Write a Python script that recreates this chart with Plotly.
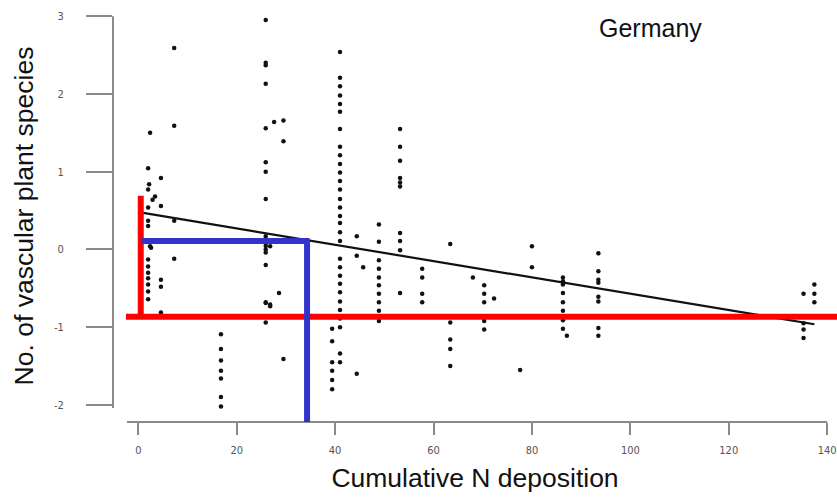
import plotly.graph_objects as go
import numpy as np

# Cumulative N deposition (x) and residual number of vascular plant species (y)
deposition = (
    [2.4, 2.0, 4.6, 2.2, 2.0, 3.4, 2.9, 4.6, 2.0, 2.0, 2.0, 2.4, 2.6,
     2.0, 2.0, 2.0, 2.0, 2.0, 2.0, 2.0, 4.6, 4.6, 4.6]
    + [7.3, 7.3, 7.3, 7.3]
    + [16.8] * 7
    + [25.9] * 17
    + [27.6, 26.8, 26.8, 26.8]
    + [29.5, 29.5, 29.5, 28.6]
    + [39.4] * 6
    + [41.0] * 30
    + [44.4, 44.4, 44.4, 45.7]
    + [48.9] * 10
    + [53.2] * 10
    + [57.7] * 4
    + [63.4] * 5
    + [68.0]
    + [70.3] * 5
    + [72.3, 77.6, 80.0, 80.0]
    + [86.3] * 8 + [87.1]
    + [93.5] * 8
    + [135.2] * 4
    + [137.4] * 3
)

species = (
    [1.50, 1.045, 0.92, 0.84, 0.77, 0.68, 0.64, 0.56, 0.54, 0.37, 0.30, 0.04, 0.02,
     -0.13, -0.22, -0.30, -0.37, -0.45, -0.54, -0.64, -0.39, -0.48, -0.81]
    + [2.59, 1.59, 0.37, -0.12]
    + [-1.09, -1.28, -1.43, -1.56, -1.66, -1.90, -2.02]
    + [2.95, 2.40, 2.37, 2.13, 1.56, 1.12, 1.00, 0.65, 0.17, 0.08, 0.045, 0.0,
       -0.04, -0.20, -0.68, -0.69, -0.94]
    + [1.64, 0.04, -0.71, -0.73]
    + [1.66, 1.39, -1.41, -0.56]
    + [-1.02, -1.18, -1.45, -1.56, -1.68, -1.80]
    + [2.54, 2.21, 2.10, 1.98, 1.87, 1.77, 1.55, 1.32, 1.21, 1.10, 0.99, 0.88,
       0.77, 0.65, 0.54, 0.43, 0.34, 0.22, 0.11, -0.12, -0.23, -0.34, -0.44,
       -0.55, -0.67, -0.78, -0.89, -1.00, -1.34, -1.45]
    + [0.17, -0.08, -1.60, -0.23]
    + [0.32, 0.10, -0.14, -0.25, -0.36, -0.46, -0.57, -0.68, -0.79, -0.92]
    + [1.55, 1.32, 1.14, 0.92, 0.86, 0.81, 0.21, 0.11, -0.01, -0.56]
    + [-0.25, -0.36, -0.57, -0.68]
    + [0.07, -0.94, -1.16, -1.28, -1.50]
    + [-0.36]
    + [-0.46, -0.57, -0.68, -0.92, -1.03]
    + [-0.63, -1.55, 0.04, -0.23]
    + [-0.36, -0.41, -0.45, -0.56, -0.68, -0.79, -0.91, -1.02, -1.11]
    + [-0.05, -0.28, -0.39, -0.43, -0.61, -0.67, -1.01, -1.11]
    + [-0.57, -0.95, -1.03, -1.14]
    + [-0.45, -0.57, -0.68]
)

# Fitted linear trend
fit_intercept = 0.48
fit_slope = -0.0105
fit_x_range = [1.0, 137.4]

# Reference guides
red_x, red_top, red_level = 0.5, 0.69, -0.865
blue_x, blue_level = 34.3, 0.11

x_ticks = [0, 20, 40, 60, 80, 100, 120, 140]
y_ticks = [-2, -1, 0, 1, 2, 3]

x_range = [-5.14, 142.0]
y_range = [-2.22, 3.08]

fit_x = np.array(fit_x_range)
fit_y = fit_intercept + fit_slope * fit_x

fig = go.Figure()
fig.add_trace(go.Scatter(
    x=deposition, y=species, mode="markers",
    marker=dict(size=4.5, color="#111111"),
    showlegend=False, hoverinfo="skip",
))
fig.add_trace(go.Scatter(
    x=fit_x, y=fit_y, mode="lines",
    line=dict(color="#111111", width=2.2),
    showlegend=False, hoverinfo="skip",
))

axis_grey = "#8a8a8a"
shapes = [
    # axis lines
    dict(type="line", xref="paper", yref="y", x0=0, x1=0, y0=y_ticks[0] - 0.04, y1=y_ticks[-1],
         line=dict(color=axis_grey, width=2)),
    dict(type="line", xref="x", yref="paper", x0=-2.3, x1=x_ticks[-1], y0=0, y1=0,
         line=dict(color=axis_grey, width=2)),
    # red guides
    dict(type="line", xref="x", yref="y", x0=red_x, x1=red_x, y0=red_level, y1=red_top,
         line=dict(color="#ff0000", width=6)),
    dict(type="line", xref="x", yref="y", x0=-2.5, x1=x_range[1], y0=red_level, y1=red_level,
         line=dict(color="#ff0000", width=6)),
    # blue guides
    dict(type="line", xref="x", yref="y", x0=0.6, x1=blue_x + 0.5, y0=blue_level, y1=blue_level,
         line=dict(color="#3333cc", width=6)),
    dict(type="line", xref="x", yref="y", x0=blue_x, x1=blue_x, y0=blue_level, y1=y_range[0],
         line=dict(color="#3333cc", width=6)),
]

tick_font = dict(family="Liberation Sans Narrow, DejaVu Sans Condensed, Arial, sans-serif",
                 size=11, color="#555555")
title_font = dict(family="Liberation Sans, Arial, sans-serif", size=26.5, color="#111111")

fig.update_layout(
    width=837, height=497,
    margin=dict(l=113, r=0, t=10, b=75),
    paper_bgcolor="white", plot_bgcolor="white",
    shapes=shapes,
    annotations=[
        dict(text="Germany", xref="x", yref="paper", x=104, y=0.957,
             xanchor="center", yanchor="middle", showarrow=False,
             font=dict(family="Liberation Sans, Arial, sans-serif", size=25, color="#111111")),
    ],
)

fig.update_xaxes(
    range=x_range, tickvals=x_ticks, ticktext=[str(v) for v in x_ticks],
    showgrid=False, zeroline=False, showline=False,
    ticks="outside", ticklen=12, tickwidth=2, tickcolor=axis_grey,
    tickfont=tick_font, ticklabelstandoff=6,
    title=dict(text="Cumulative N deposition", font=title_font, standoff=12),
)
fig.update_yaxes(
    range=y_range, tickvals=y_ticks, ticktext=[str(v) for v in y_ticks],
    showgrid=False, zeroline=False, showline=False,
    ticks="outside", ticklen=26, tickwidth=2, tickcolor=axis_grey,
    tickfont=tick_font, ticklabelstandoff=20,
    title=dict(text="No. of vascular plant species", font=title_font, standoff=12),
)

fig.write_html("out.html")
